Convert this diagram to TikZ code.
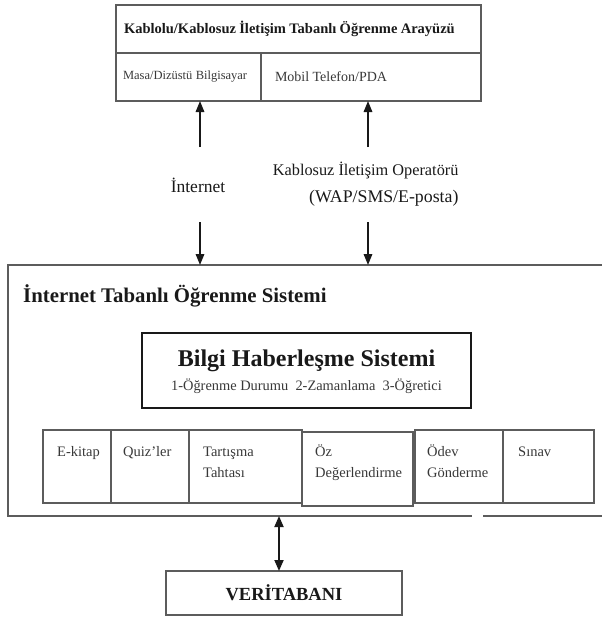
\documentclass[tikz,border=0pt]{standalone}
\usepackage{fontspec}
\setmainfont{Liberation Serif}
\usetikzlibrary{arrows.meta,positioning}
\definecolor{rule}{gray}{0.36}
\definecolor{ink}{gray}{0.10}
\definecolor{soft}{gray}{0.22}
\tikzset{
  panel/.style={draw=rule, line width=1.3pt, inner sep=0pt, outer sep=0pt, anchor=north west},
  modtext/.style={text=soft, inner sep=0pt, anchor=base west, align=left, font=\fontsize{14.5}{21}\selectfont},
  flow/.style={-{Triangle[length=11pt,width=8.5pt]}, line width=1.6pt, draw=ink},
  dbflow/.style={{Triangle[length=11pt,width=9pt]}-{Triangle[length=11pt,width=9pt]}, line width=1.8pt, draw=ink}
}

\begin{document}
\begin{tikzpicture}[x=1pt, y=-1pt]
  \useasboundingbox (0,0) rectangle (602,622);
  \node[panel, minimum width=365pt, minimum height=48pt, text width=349pt, inner xsep=8pt, align=left, text=ink] (uihead) at (116,5) {
    {\fontsize{14.5}{16}\selectfont\bfseries Kablolu/Kablosuz İletişim Tabanlı Öğrenme Arayüzü}
  };
  \node[panel, minimum width=145pt, minimum height=48pt, text width=131pt, inner xsep=7pt, align=left, text=soft] (pc) at (116,53) {
    {\fontsize{12.5}{15}\selectfont Masa/Dizüstü Bilgisayar}
  };
  \node[panel, minimum width=220pt, minimum height=48pt, text width=192pt, inner xsep=14pt, align=left, text=soft] (mobil) at (261,53) {
    {\fontsize{14}{16}\selectfont Mobil Telefon/PDA}
  };

  \node[text=ink, font=\fontsize{17.5}{20}\selectfont] (inet) at (198,185) {İnternet};
  \node[text=ink, anchor=east, align=right, font=\fontsize{16.3}{27}\selectfont] (wless) at (462,184) {Kablosuz İletişim Operatörü\\{\fontsize{17.8}{27}\selectfont (WAP/SMS/E-posta)}};

  \coordinate (itsnw) at (8,265);
  \coordinate (itssw) at (8,516);
  \coordinate (gapl) at (472,516);
  \coordinate (gapr) at (483,516);
  \draw[draw=rule, line width=1.6pt] (602,265) -- (itsnw) -- (itssw) -- (gapl);
  \draw[draw=rule, line width=1.6pt] (gapr) -- (602,516);
  \node[anchor=west, inner sep=0pt, text=ink, font=\fontsize{20.8}{23}\selectfont\bfseries] (itstitle) at (23,296) {İnternet Tabanlı Öğrenme Sistemi};

  \coordinate (inetup) at (200,147);
  \coordinate (inetdown) at (200,222);
  \coordinate (wlessup) at (368,147);
  \coordinate (wlessdown) at (368,222);
  \draw[flow] (inetup) -- (inetup |- pc.south);
  \draw[flow] (wlessup) -- (wlessup |- mobil.south);
  \draw[flow] (inetdown) -- (inetdown |- itsnw);
  \draw[flow] (wlessdown) -- (wlessdown |- itsnw);

  \node[panel, draw=ink, line width=2.6pt, minimum width=329pt, minimum height=75pt] (bhs) at (142,333) {};
  \node[anchor=base, inner sep=0pt, text=ink, font=\fontsize{24}{26}\selectfont\bfseries] (bhshead) at (306.5,366) {Bilgi Haberleşme Sistemi};
  \node[anchor=base, inner sep=0pt, text=soft, font=\fontsize{14.4}{16}\selectfont] (bhssub) at (306.5,390) {1-Öğrenme Durumu\ \ 2-Zamanlama\ \ 3-Öğretici};

  \node[panel, minimum width=68pt, minimum height=73pt] (ek) at (43,430) {};
  \node[panel, minimum width=78pt, minimum height=73pt] (quiz) at (111,430) {};
  \node[panel, minimum width=113pt, minimum height=73pt] (tart) at (189,430) {};
  \node[panel, minimum width=111pt, minimum height=74pt] (oz) at (302,432) {};
  \node[panel, minimum width=88pt, minimum height=73pt] (odev) at (415,430) {};
  \node[panel, minimum width=91pt, minimum height=73pt] (sinav) at (503,430) {};
  \node[modtext] (ektext) at ([xshift=14pt,yshift=-26pt]ek.north west) {E-kitap};
  \node[modtext] (quiztext) at ([xshift=12pt,yshift=-26pt]quiz.north west) {Quiz'ler};
  \node[modtext] (tarttext) at ([xshift=14pt,yshift=-47pt]tart.north west) {Tartışma\\Tahtası};
  \node[modtext] (oztext) at ([xshift=13pt,yshift=-45pt]oz.north west) {Öz\\Değerlendirme};
  \node[modtext] (odevtext) at ([xshift=12pt,yshift=-47pt]odev.north west) {Ödev\\Gönderme};
  \node[modtext] (sinavtext) at ([xshift=15pt,yshift=-26pt]sinav.north west) {Sınav};

  \node[panel, minimum width=236pt, minimum height=44pt] (vt) at (166,571) {};
  \node[text=ink, font=\fontsize{18.5}{20}\selectfont\bfseries] (vttext) at (vt.center) {VERİTABANI};
  \coordinate (dbtop) at (279,516);
  \draw[dbflow] (dbtop) -- (dbtop |- vt.north);
\end{tikzpicture}
\end{document}
